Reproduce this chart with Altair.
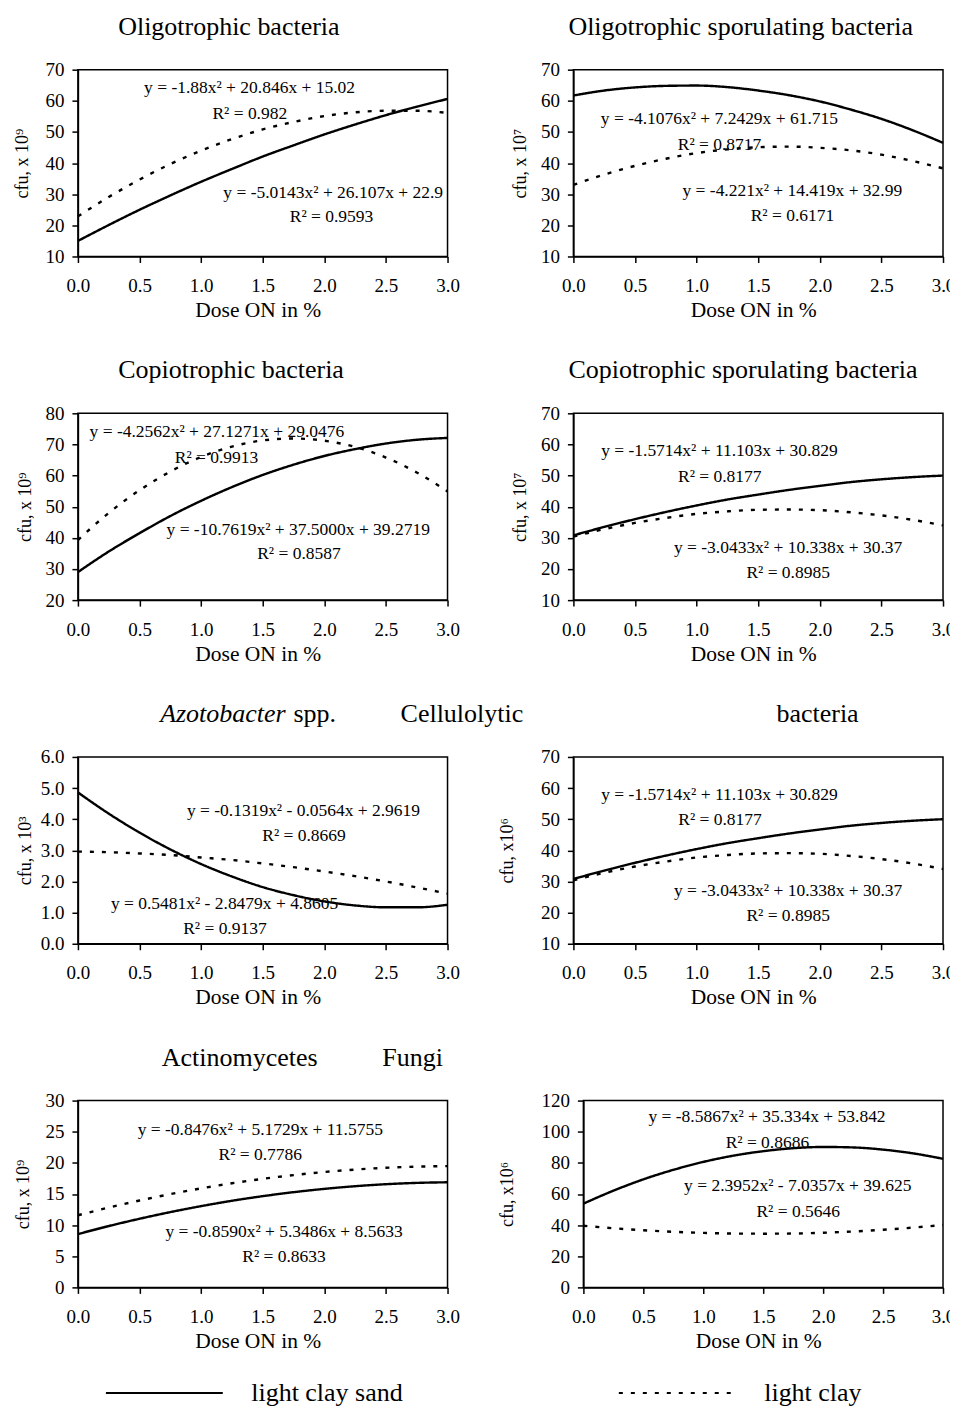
import altair as alt
import pandas as pd

FONT = "Liberation Serif"

# ---------------- data ----------------
DOSE = [0.0, 0.25, 0.5, 0.75, 1.0, 1.25, 1.5, 1.75, 2.0, 2.25, 2.5, 2.75, 3.0]
SOILS = ["light clay sand", "light clay"]
XTICKS = [0.0, 0.5, 1.0, 1.5, 2.0, 2.5, 3.0]

oligo_sand = [15.0, 20.1, 25.0, 29.6, 34.0, 38.1, 42.1, 45.7, 49.2, 52.4, 55.4, 58.1, 60.6]
oligo_clay = [22.9, 29.1, 34.7, 39.7, 44.0, 47.7, 50.8, 53.2, 55.1, 56.3, 56.8, 56.8, 56.1]

olspor_sand = [61.7, 63.3, 64.3, 64.8, 64.9, 64.4, 63.3, 61.8, 59.8, 57.2, 54.2, 50.6, 46.5]
olspor_clay = [33.0, 36.3, 39.1, 41.4, 43.2, 44.4, 45.1, 45.3, 44.9, 44.1, 42.7, 40.7, 38.3]

copio_sand = [29.0, 35.6, 41.5, 47.0, 51.9, 56.3, 60.2, 63.5, 66.3, 68.5, 70.3, 71.5, 72.1]
copio_clay = [39.3, 48.0, 55.3, 61.3, 66.0, 69.3, 71.3, 71.9, 71.2, 69.2, 65.8, 61.0, 54.9]

cospor_sand = [30.8, 33.5, 36.0, 38.3, 40.4, 42.3, 43.9, 45.4, 46.7, 47.9, 48.8, 49.5, 50.0]
cospor_clay = [30.4, 32.8, 34.8, 36.4, 37.7, 38.5, 39.0, 39.1, 38.9, 38.2, 37.2, 35.8, 34.0]

azoto_sand = [4.86, 4.18, 3.57, 3.03, 2.56, 2.16, 1.82, 1.56, 1.36, 1.23, 1.17, 1.17, 1.25]
azoto_clay = [2.96, 2.94, 2.90, 2.85, 2.77, 2.69, 2.58, 2.46, 2.32, 2.17, 2.00, 1.81, 1.61]

cellu_sand = [30.8, 33.5, 36.0, 38.3, 40.4, 42.3, 43.9, 45.4, 46.7, 47.9, 48.8, 49.5, 50.0]
cellu_clay = [30.4, 32.8, 34.8, 36.4, 37.7, 38.5, 39.0, 39.1, 38.9, 38.2, 37.2, 35.8, 34.0]

actino_sand = [8.56, 9.85, 11.02, 12.09, 13.05, 13.91, 14.65, 15.29, 15.82, 16.25, 16.57, 16.78, 16.88]
actino_clay = [11.58, 12.82, 13.95, 14.98, 15.90, 16.72, 17.43, 18.03, 18.53, 18.92, 19.21, 19.39, 19.47]

fungi_sand = [53.8, 62.1, 69.4, 75.5, 80.6, 84.6, 87.5, 89.4, 90.2, 89.9, 88.5, 86.1, 82.6]
fungi_clay = [39.6, 38.0, 36.7, 35.7, 35.0, 34.6, 34.5, 34.6, 35.1, 35.9, 37.0, 38.4, 40.1]

# trend-line equations shown in each panel
oligo_eq = ["y = -1.88x² + 20.846x + 15.02", "R² = 0.982",
            "y = -5.0143x² + 26.107x + 22.9", "R² = 0.9593"]
olspor_eq = ["y = -4.1076x² + 7.2429x + 61.715", "R² = 0.8717",
             "y = -4.221x² + 14.419x + 32.99", "R² = 0.6171"]
copio_eq = ["y = -4.2562x² + 27.1271x + 29.0476", "R² = 0.9913",
            "y = -10.7619x² + 37.5000x + 39.2719", "R² = 0.8587"]
cospor_eq = ["y = -1.5714x² + 11.103x + 30.829", "R² = 0.8177",
             "y = -3.0433x² + 10.338x + 30.37", "R² = 0.8985"]
azoto_eq = ["y = -0.1319x² - 0.0564x + 2.9619", "R² = 0.8669",
            "y = 0.5481x² - 2.8479x + 4.8605", "R² = 0.9137"]
cellu_eq = ["y = -1.5714x² + 11.103x + 30.829", "R² = 0.8177",
            "y = -3.0433x² + 10.338x + 30.37", "R² = 0.8985"]
actino_eq = ["y = -0.8476x² + 5.1729x + 11.5755", "R² = 0.7786",
             "y = -0.8590x² + 5.3486x + 8.5633", "R² = 0.8633"]
fungi_eq = ["y = -8.5867x² + 35.334x + 53.842", "R² = 0.8686",
            "y = 2.3952x² - 7.0357x + 39.625", "R² = 0.5646"]

# ---------------- layout / style ----------------
W, H = 370, 187
ROW_STEP = 344     # nested rows are laid out flush: plot height + gap
COL_GAP = 126
COL_GAP_LAST = 136
LEGEND = alt.Legend(
    orient="none", legendX=27, legendY=1265, direction="horizontal", title=None,
    symbolType="stroke", symbolSize=13689, symbolStrokeWidth=2,
    symbolStrokeColor="black", labelFont=FONT, labelFontSize=26,
    labelColor="black", labelOffset=27.5, columnPadding=211.5, labelLimit=0,
    padding=0,
)


def panel(sand, clay, eq_text, eq_x, eq_y, ydom, yticks, yfmt, ytitle, ytitle_x,
          titles, width=W, xtitle_x=180):
    df = pd.DataFrame({
        "dose": DOSE + DOSE,
        "cfu": sand + clay,
        "soil": [SOILS[0]] * len(DOSE) + [SOILS[1]] * len(DOSE),
    })
    xaxis = alt.Axis(values=XTICKS, format=".1f", title="Dose ON in %",
                     titleX=xtitle_x, titleY=60, titleBaseline="alphabetic",
                     titleFontSize=21.5, labelPadding=14, labelFlush=False,
                     labelOverlap=False, tickCount=20)
    yaxis = alt.Axis(values=yticks, format=yfmt, title=ytitle, titleX=ytitle_x,
                     titleY=H / 2, titleAngle=270, titleBaseline="middle",
                     titleAlign="center", titleFontSize=18, labelPadding=8,
                     labelOverlap=False, labelFlush=False, tickCount=20)
    x = alt.X("dose:Q", scale=alt.Scale(domain=[0, 3], nice=False, zero=False), axis=xaxis)
    y = alt.Y("cfu:Q", scale=alt.Scale(domain=ydom, nice=False, zero=False), axis=yaxis)

    lines = alt.Chart(df).mark_line(
        interpolate="monotone", strokeWidth=2.4, color="black", strokeCap="butt"
    ).encode(
        x=x, y=y,
        strokeDash=alt.StrokeDash(
            "soil:N",
            scale=alt.Scale(domain=SOILS, range=[[1, 0], [4, 8]]),
            legend=LEGEND,
        ),
    )

    eq_df = pd.DataFrame({"dose": eq_x, "cfu": eq_y, "label": eq_text})
    eqs = alt.Chart(eq_df).mark_text(
        font=FONT, fontSize=17.5, color="black", align="center", baseline="alphabetic"
    ).encode(x=x, y=y, text="label:N")

    layers = [lines, eqs]
    for text, tx, italic in titles:
        t = alt.Chart(pd.DataFrame({"t": [text]})).mark_text(
            font=FONT, fontSize=26, color="black", align="left",
            baseline="alphabetic", fontStyle="italic" if italic else "normal",
        ).encode(x=alt.value(tx), y=alt.value(-35), text="t:N")
        layers.append(t)
    return alt.layer(*layers).properties(width=width, height=H)


p1 = panel(oligo_sand, oligo_clay, oligo_eq, [1.393, 1.395, 2.072, 2.058], [62.4, 54.2, 28.7, 21.0],
           [10, 70], [10, 20, 30, 40, 50, 60, 70], "d", "cfu, x 10⁹", -55,
           [("Oligotrophic bacteria", 40.3, False)])
p2 = panel(olspor_sand, olspor_clay, olspor_eq, [1.185, 1.186, 1.777, 1.778], [52.6, 44.3, 29.3, 21.3],
           [10, 70], [10, 20, 30, 40, 50, 60, 70], "d", "cfu, x 10⁷", -53,
           [("Oligotrophic sporulating bacteria", -5, False)])
p3 = panel(copio_sand, copio_clay, copio_eq, [1.128, 1.125, 1.788, 1.794], [72.4, 64.1, 40.9, 33.1],
           [20, 80], [20, 30, 40, 50, 60, 70, 80], "d", "cfu, x 10⁹", -52,
           [("Copiotrophic bacteria", 40.3, False)])
p4 = panel(cospor_sand, cospor_clay, cospor_eq, [1.185, 1.188, 1.743, 1.743], [56.3, 47.9, 25.2, 17.2],
           [10, 70], [10, 20, 30, 40, 50, 60, 70], "d", "cfu, x 10⁷", -53,
           [("Copiotrophic sporulating bacteria", -5, False)])
p5 = panel(azoto_sand, azoto_clay, azoto_eq, [1.831, 1.835, 1.190, 1.193], [4.09, 3.30, 1.125, 0.32],
           [0, 6], [0, 1, 2, 3, 4, 5, 6], ".1f", "cfu, x 10³", -52,
           [("Azotobacter", 82.3, True), ("spp.", 215.7, False), ("Cellulolytic", 323, False)])
p6 = panel(cellu_sand, cellu_clay, cellu_eq, [1.185, 1.19, 1.743, 1.743], [56.1, 48.0, 25.2, 17.2],
           [10, 70], [10, 20, 30, 40, 50, 60, 70], "d", "cfu, x10⁶", -66,
           [("bacteria", 203.3, False)])
p7 = panel(actino_sand, actino_clay, actino_eq, [1.48, 1.48, 1.673, 1.673], [24.5, 20.4, 8.16, 4.13],
           [0, 30], [0, 5, 10, 15, 20, 25, 30], "d", "cfu, x 10⁹", -54,
           [("Actinomycetes", 84, False), ("Fungi", 304.7, False)])
p8 = panel(fungi_sand, fungi_clay, fungi_eq, [1.532, 1.535, 1.788, 1.792], [106.0, 89.5, 61.6, 45.5],
           [0, 120], [0, 20, 40, 60, 80, 100, 120], "d", "cfu, x10⁶", -76,
           [], width=360, xtitle_x=175)

row1 = alt.hconcat(p1, p2, spacing=COL_GAP, bounds="flush")
row2 = alt.hconcat(p3, p4, spacing=COL_GAP, bounds="flush")
row3 = alt.hconcat(p5, p6, spacing=COL_GAP, bounds="flush")
row4 = alt.hconcat(p7, p8, spacing=COL_GAP_LAST, bounds="flush")

chart = alt.vconcat(row1, row2, row3, row4, spacing=ROW_STEP, bounds="flush").properties(
    padding={"left": 5, "top": 4, "right": -6, "bottom": 0}
).configure_view(
    stroke="black", strokeWidth=1.5
).configure_axis(
    grid=False, domainColor="black", domainWidth=1.5, tickColor="black", tickWidth=1.5,
    tickSize=6, labelColor="black", titleColor="black", labelFont=FONT, titleFont=FONT,
    titleFontWeight="normal", labelFontSize=19, labelOverlap=False,
).resolve_scale(strokeDash="shared")

chart.save("out.html", embed_options={"renderer": "svg", "actions": False})
